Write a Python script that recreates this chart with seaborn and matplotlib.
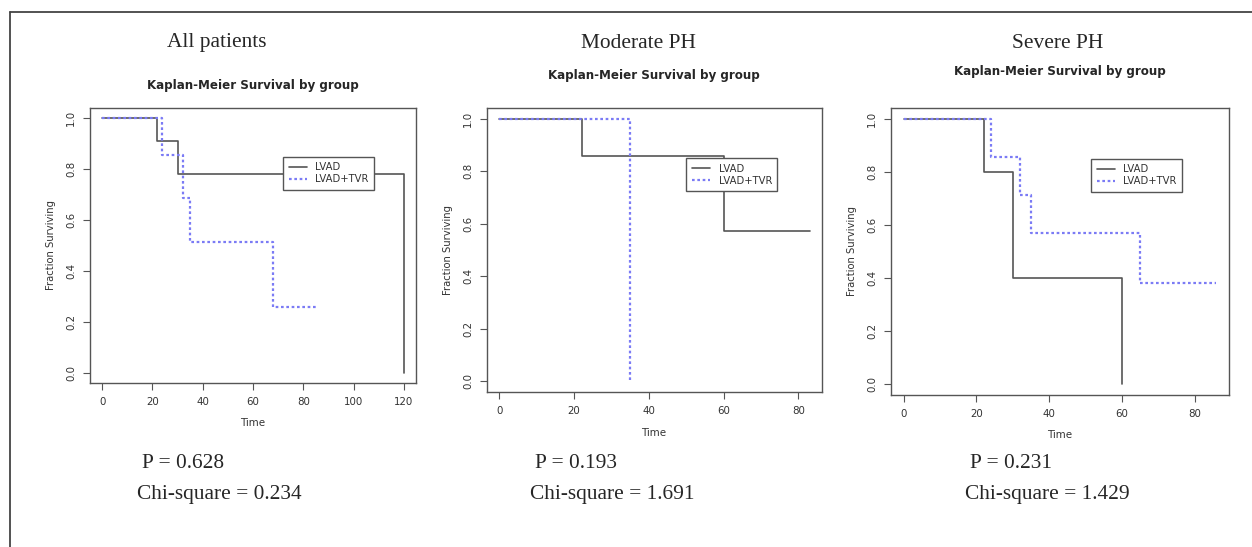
import pandas as pd
import numpy as np
import seaborn as sns
import matplotlib.pyplot as plt

# Kaplan-Meier step points (time, fraction surviving)
all_lvad_t = [0, 22, 30, 120]
all_lvad_s = [1.0, 0.909, 0.779, 0.0]
all_tvr_t = [0, 24, 32, 35, 68, 86]
all_tvr_s = [1.0, 0.857, 0.686, 0.514, 0.257, 0.257]

mod_lvad_t = [0, 22, 60, 83]
mod_lvad_s = [1.0, 0.857, 0.571, 0.571]
mod_tvr_t = [0, 35]
mod_tvr_s = [1.0, 0.0]

sev_lvad_t = [0, 22, 30, 60]
sev_lvad_s = [1.0, 0.8, 0.4, 0.0]
sev_tvr_t = [0, 24, 32, 35, 65, 86]
sev_tvr_s = [1.0, 0.857, 0.714, 0.571, 0.381, 0.381]

panel_titles = ["All patients", "Moderate PH", "Severe PH"]
p_values = ["0.628", "0.193", "0.231"]
chi_values = ["0.234", "1.691", "1.429"]
x_ticks = [[0, 20, 40, 60, 80, 100, 120], [0, 20, 40, 60, 80], [0, 20, 40, 60, 80]]
x_max = [120, 83, 86]
groups = ["LVAD", "LVAD+TVR"]

data = [
    (all_lvad_t, all_lvad_s, all_tvr_t, all_tvr_s),
    (mod_lvad_t, mod_lvad_s, mod_tvr_t, mod_tvr_s),
    (sev_lvad_t, sev_lvad_s, sev_tvr_t, sev_tvr_s),
]

sns.set_style("white")
plt.rcParams['font.family'] = ['DejaVu Sans']

W, H = 1252, 547
fig = plt.figure(figsize=(W / 100, H / 100), dpi=100)

# pixel boxes: left, top, right, bottom
boxes = [(90, 108, 416, 383), (487, 108, 822, 392), (891, 108, 1229, 395)]
title_pos = [(217, 43), (638, 43), (1058, 43)]
km_pos = [(253, 85), (654, 75), (1060, 71)]
time_pos = [(253, 423), (654, 433), (1060, 435)]
stat_x = [142, 535, 970]
legend_box = [(283, 157), (686, 158), (1091, 159)]

gray = "#555555"
blue = "#7b7bf5"
txt_col = "#333333"

for i, (lt, ls, tt, ts) in enumerate(data):
    l, t, r, b = boxes[i]
    ax = fig.add_axes([l / W, 1 - b / H, (r - l) / W, (b - t) / H])
    df = pd.DataFrame({
        "time": lt + tt,
        "surv": ls + ts,
        "group": [groups[0]] * len(lt) + [groups[1]] * len(tt),
    })
    sns.lineplot(data=df[df.group == groups[0]], x="time", y="surv", ax=ax,
                 estimator=None, drawstyle="steps-post", color=gray, lw=1.2,
                 label=groups[0])
    sns.lineplot(data=df[df.group == groups[1]], x="time", y="surv", ax=ax,
                 estimator=None, drawstyle="steps-post", color=blue, lw=1.6,
                 linestyle=(0, (1.2, 1.2)), label=groups[1])
    pad = x_max[i] * 0.04
    ax.set_xlim(-pad, x_max[i] + pad)
    ax.set_ylim(-0.04, 1.04)
    ax.set_xticks(x_ticks[i])
    ax.set_yticks([0, 0.2, 0.4, 0.6, 0.8, 1.0])
    ax.set_yticklabels(["0.0", "0.2", "0.4", "0.6", "0.8", "1.0"], rotation=90, va="center")
    ax.tick_params(axis="both", direction="out", length=5, width=0.8, color=gray,
                   labelsize=7.4, labelcolor=txt_col, pad=5, left=True, bottom=True)
    for s in ax.spines.values():
        s.set_color(gray)
        s.set_linewidth(1.0)
    ax.set_xlabel("")
    ax.set_ylabel("Fraction Surviving", fontsize=7.2, color=txt_col, labelpad=7)

    # legend, placed by pixel
    lx, ly = legend_box[i]
    leg = ax.legend(loc="upper left", bbox_to_anchor=(lx / W, 1 - ly / H),
                    bbox_transform=fig.transFigure, borderaxespad=0,
                    fontsize=7.2, frameon=True,
                    fancybox=False, edgecolor=gray, framealpha=1, borderpad=0.55,
                    handlelength=1.8, labelspacing=0.2, handletextpad=0.9)
    leg.get_frame().set_linewidth(1.0)
    for txt in leg.get_texts():
        txt.set_color(txt_col)

    fig.text(title_pos[i][0] / W, 1 - title_pos[i][1] / H, panel_titles[i],
             family="Liberation Serif", fontsize=15.4, ha="center", va="center")
    fig.text(km_pos[i][0] / W, 1 - km_pos[i][1] / H, "Kaplan-Meier Survival by group",
             fontsize=8.6, fontweight="bold", ha="center", va="center")
    fig.text(time_pos[i][0] / W, 1 - time_pos[i][1] / H, "Time",
             fontsize=7.4, color=txt_col, ha="center", va="center")
    fig.text(stat_x[i] / W, 1 - 463 / H, "P = " + p_values[i],
             family="Liberation Serif", fontsize=15.4, ha="left", va="center")
    fig.text((stat_x[i] - 5) / W, 1 - 494 / H, "Chi-square = " + chi_values[i],
             family="Liberation Serif", fontsize=15.4, ha="left", va="center")

# outer frame: top and left edges
fig.add_artist(plt.Line2D([9.5 / W, 1], [1 - 11.5 / H, 1 - 11.5 / H],
                          transform=fig.transFigure, color="#444444", lw=1.3))
fig.add_artist(plt.Line2D([9.5 / W, 9.5 / W], [0, 1 - 11.5 / H],
                          transform=fig.transFigure, color="#444444", lw=1.3))

fig.savefig("out.png", dpi=100)
